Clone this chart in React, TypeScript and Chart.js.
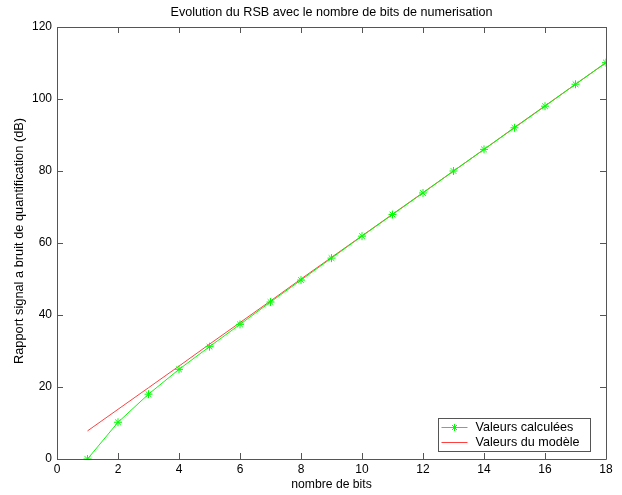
import React, { useEffect, useRef } from "react";
import { Chart, registerables } from "chart.js";

Chart.register(...registerables);

const bits = [1, 2, 3, 4, 5, 6, 7, 8, 9, 10, 11, 12, 13, 14, 15, 16, 17, 18];
const computedSNR = [0, 10.2, 18.0, 24.9, 31.2, 37.4, 43.6, 49.7, 55.8, 61.9, 67.9, 73.9, 80.0, 86.0, 92.0, 98.0, 104.1, 110.1];
const modelSNR = [7.8, 13.8, 19.8, 25.8, 31.9, 37.9, 43.9, 50.0, 56.0, 62.0, 68.0, 74.0, 80.0, 86.0, 92.1, 98.1, 104.1, 110.1];
const xTicks = [0, 2, 4, 6, 8, 10, 12, 14, 16, 18];
const yTicks = [0, 20, 40, 60, 80, 100, 120];

const TITLE = "Evolution du RSB avec le nombre de bits de numerisation";
const X_LABEL = "nombre de bits";
const Y_LABEL = "Rapport signal a bruit de quantification (dB)";
const LEGEND = ["Valeurs calculées", "Valeurs du modèle"];

const FONT = "Liberation Sans, Arial, sans-serif";
const AXIS_COLOR = "#555555";
const GREEN = "#00ff00";
const RED = "#ff4040";

const framePlugin = {
  id: "matlabFrame",
  afterDraw(chart: any) {
    const { ctx, chartArea } = chart;
    const { left, right, top, bottom } = chartArea;
    const xs = chart.scales.x;
    const ys = chart.scales.y;
    ctx.save();
    ctx.strokeStyle = AXIS_COLOR;
    ctx.lineWidth = 1;
    ctx.beginPath();
    ctx.rect(Math.round(left) + 0.5, Math.round(top) + 0.5, Math.round(right - left), Math.round(bottom - top));
    ctx.stroke();
    const tl = 6;
    ctx.beginPath();
    xTicks.forEach((t) => {
      const px = Math.round(xs.getPixelForValue(t)) + 0.5;
      ctx.moveTo(px, bottom);
      ctx.lineTo(px, bottom - tl);
      ctx.moveTo(px, top);
      ctx.lineTo(px, top + tl);
    });
    yTicks.forEach((t) => {
      const py = Math.round(ys.getPixelForValue(t)) + 0.5;
      ctx.moveTo(left, py);
      ctx.lineTo(left + tl, py);
      ctx.moveTo(right, py);
      ctx.lineTo(right - tl, py);
    });
    ctx.stroke();

    // titles
    ctx.fillStyle = "#000";
    ctx.textAlign = "center";
    ctx.textBaseline = "middle";
    const cx = (left + right) / 2;
    ctx.font = `12.6px ${FONT}`;
    ctx.fillText(TITLE, cx, 13);
    ctx.font = `12.2px ${FONT}`;
    ctx.fillText(X_LABEL, cx, 485);
    ctx.save();
    ctx.translate(19.5, 241);
    ctx.rotate(-Math.PI / 2);
    ctx.font = `12.8px ${FONT}`;
    ctx.fillText(Y_LABEL, 0, 0);
    ctx.restore();

    // legend
    const bw = 152;
    const bh = 33;
    const bx = Math.round(right - 16 - bw) + 0.5;
    const by = Math.round(bottom - 8 - bh) + 0.5;
    ctx.fillStyle = "#fff";
    ctx.fillRect(bx, by, bw, bh);
    ctx.strokeStyle = AXIS_COLOR;
    ctx.strokeRect(bx, by, bw, bh);
    const y1 = by + 9;
    const y2 = by + 24;
    ctx.strokeStyle = GREEN;
    ctx.beginPath();
    ctx.moveTo(bx + 3, y1);
    ctx.lineTo(bx + 29, y1);
    ctx.stroke();
    const mx = bx + 16;
    const r = 3.5;
    ctx.beginPath();
    ctx.moveTo(mx - r, y1); ctx.lineTo(mx + r, y1);
    ctx.moveTo(mx, y1 - r); ctx.lineTo(mx, y1 + r);
    const d = r * 0.7071;
    ctx.moveTo(mx - d, y1 - d); ctx.lineTo(mx + d, y1 + d);
    ctx.moveTo(mx - d, y1 + d); ctx.lineTo(mx + d, y1 - d);
    ctx.stroke();
    ctx.strokeStyle = RED;
    ctx.beginPath();
    ctx.moveTo(bx + 3, y2);
    ctx.lineTo(bx + 29, y2);
    ctx.stroke();
    ctx.fillStyle = "#000";
    ctx.font = `12.6px ${FONT}`;
    ctx.textAlign = "left";
    ctx.fillText(LEGEND[0], bx + 37, y1);
    ctx.fillText(LEGEND[1], bx + 37, y2);
    ctx.restore();
  },
};

export default function App() {
  const ref = useRef<HTMLCanvasElement>(null);
  useEffect(() => {
    if (!ref.current) return;
    const chart = new Chart(ref.current, {
      type: "line",
      data: {
        datasets: [
          {
            label: LEGEND[1],
            data: bits.map((b, i) => ({ x: b, y: modelSNR[i] })),
            borderColor: RED,
            borderWidth: 1,
            pointRadius: 0,
            tension: 0,
            order: 2,
          },
          {
            label: LEGEND[0],
            data: bits.map((b, i) => ({ x: b, y: computedSNR[i] })),
            borderColor: GREEN,
            backgroundColor: GREEN,
            borderWidth: 1,
            pointStyle: "star",
            pointRadius: 4,
            pointBorderColor: GREEN,
            pointBorderWidth: 1,
            tension: 0,
            order: 1,
          },
        ],
      },
      options: {
        responsive: false,
        animation: false,
        layout: { padding: { left: 0, top: 27, right: 16, bottom: 0 } },
        plugins: {
          legend: { display: false },
          title: { display: false },
          tooltip: { enabled: false },
        },
        scales: {
          x: {
            type: "linear",
            min: 0,
            max: 18,
            afterBuildTicks: (s: any) => {
              s.ticks = xTicks.map((v) => ({ value: v }));
            },
            afterFit: (s: any) => {
              s.height = 36;
            },
            grid: { display: false, drawTicks: false },
            border: { display: false },
            ticks: {
              color: "#000",
              font: { family: FONT, size: 12 },
              padding: 3,
              maxRotation: 0,
            },
          },
          y: {
            type: "linear",
            min: 0,
            max: 120,
            afterBuildTicks: (s: any) => {
              s.ticks = yTicks.map((v) => ({ value: v }));
            },
            afterFit: (s: any) => {
              s.width = 57;
            },
            grid: { display: false, drawTicks: false },
            border: { display: false },
            ticks: {
              color: "#000",
              font: { family: FONT, size: 12 },
              padding: 5,
            },
          },
        },
      },
      plugins: [framePlugin],
    } as any);
    return () => chart.destroy();
  }, []);
  return (
    <div style={{ position: "fixed", left: 0, top: 0, width: 622, height: 495, background: "#fff" }}>
      <canvas ref={ref} width={622} height={495} />
    </div>
  );
}
